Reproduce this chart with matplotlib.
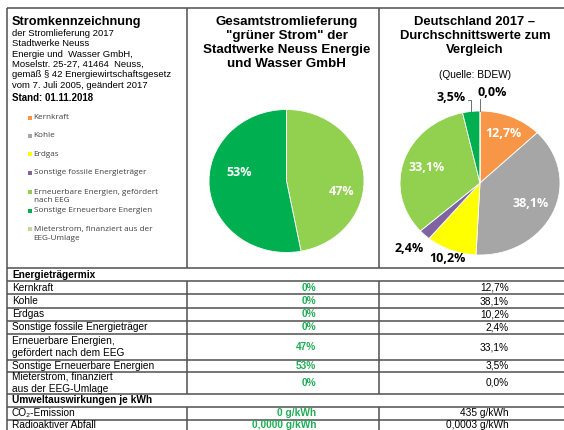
import matplotlib
matplotlib.use('Agg')
import numpy as np
import matplotlib.pyplot as plt

plt.rcParams['font.family'] = ['Liberation Sans', 'DejaVu Sans']

W, H = 564, 430

# ── data ────────────────────────────────────────────────
categories = ['Kernkraft', 'Kohle', 'Erdgas', 'Sonstige fossile Energieträger',
              'Erneuerbare Energien, gefördert\nnach EEG',
              'Sonstige Erneuerbare Energien',
              'Mieterstrom, finanziert aus der\nEEG-Umlage']
table_names = ['Kernkraft', 'Kohle', 'Erdgas', 'Sonstige fossile Energieträger',
               'Erneuerbare Energien,\ngefördert nach dem EEG',
               'Sonstige Erneuerbare Energien',
               'Mieterstrom, finanziert\naus der EEG-Umlage']
colors = ['#F79646', '#A6A6A6', '#FFFF00', '#8064A2', '#92D050', '#00B050', '#C3D69B']

gruen = [0, 0, 0, 0, 47, 53, 0]                       # Stadtwerke Neuss "grüner Strom"
de2017 = [12.7, 38.1, 10.2, 2.4, 33.1, 3.5, 0.0]      # Deutschland 2017 (BDEW)

env_names = ['CO\u2082-Emission', 'Radioaktiver Abfall']
env_gruen = ['0 g/kWh', '0,0000 g/kWh']
env_de = ['435 g/kWh', '0,0003 g/kWh']

info_lines = ['der Stromlieferung 2017', 'Stadtwerke Neuss',
              'Energie und  Wasser GmbH,', 'Moselstr. 25-27, 41464  Neuss,',
              'gemäß § 42 Energiewirtschaftsgesetz', 'vom 7. Juli 2005, geändert 2017']

green_txt = '#1fae55'
linecol = '#505050'


def de_fmt(v, dec=1):
    return f'{v:.{dec}f}'.replace('.', ',') + '%'


fig = plt.figure(figsize=(W / 100, H / 100), dpi=100)
fig.patch.set_facecolor('white')
ax = fig.add_axes([0, 0, 1, 1])
ax.set_xlim(0, W)
ax.set_ylim(H, 0)
ax.axis('off')

# ── frame of the top box ────────────────────────────────
x_left, x_c1, x_c2, x_right = 6.5, 187, 379, 566
y_top, y_box = 7.5, 268
lk = dict(color=linecol, lw=1.1, solid_capstyle='butt')
ax.plot([x_left, x_right], [y_top, y_top], **lk)
for x in (x_left, x_c1, x_c2):
    ax.plot([x, x], [y_top, y_box], **lk)

# ── left info panel ─────────────────────────────────────
ax.text(12, 22, 'Stromkennzeichnung', fontsize=9.2, fontweight='bold', va='center')
for i, line in enumerate(info_lines):
    ax.text(12.5, 33.5 + i * 10.3, line, fontsize=6.8, va='center')
ax.text(12.5, 98, 'Stand: 01.11.2018', fontsize=7.0, fontweight='bold', va='center')

leg_y = [117.5, 135.5, 154, 172.7, 192, 211, 229.3]
for name, c, y in zip(categories, colors, leg_y):
    ax.add_patch(plt.Rectangle((28.3, y - 2), 4, 4, color=c, lw=0))
    yc = y + 4.8 if '\n' in name else y
    ax.text(33.5, yc, name, fontsize=5.9, va='center', color='#404040',
            family='Open Sans', linespacing=1.25)

# ── titles ──────────────────────────────────────────────
mid_title = ['Gesamtstromlieferung', '"grüner Strom" der',
             'Stadtwerke Neuss Energie', 'und Wasser GmbH']
for i, t in enumerate(mid_title):
    ax.text(286.5, 22 + i * 14, t, fontsize=9.6, fontweight='bold', ha='center', va='center')
de_title = ['Deutschland 2017 –', 'Durchschnittswerte zum', 'Vergleich']
for i, t in enumerate(de_title):
    ax.text(475, 22 + i * 14, t, fontsize=9.4, fontweight='bold', ha='center', va='center')
ax.text(475, 75, '(Quelle: BDEW)', fontsize=7.3, ha='center', va='center')


# ── pies ────────────────────────────────────────────────
def pie_axes(cx, cy, rx, ry):
    a = fig.add_axes([(cx - rx) / W, 1 - (cy + ry) / H, 2 * rx / W, 2 * ry / H])
    return a


def mid_point(w, r, shift=0.0):
    t = np.deg2rad((w.theta1 + w.theta2) / 2 + shift)
    return r * np.cos(t), r * np.sin(t)


lab_kw = dict(family='Open Sans', fontweight='bold', fontsize=9.0, ha='center', va='center')

pa = pie_axes(286.5, 181, 77.5, 71.5)
wedges, _ = pa.pie(gruen, colors=colors, startangle=90, counterclock=False,
                   wedgeprops=dict(edgecolor='white', linewidth=0.6))
pa.set_aspect('auto')
pa.set_xlim(-1, 1)
pa.set_ylim(-1, 1)
pa.axis('off')
mid_r = {47: 0.72, 53: 0.62}
for w, v in zip(wedges, gruen):
    if v > 0:
        x, y = mid_point(w, mid_r[v], shift=-17)
        pa.text(x, y, f'{v}%', color='white', **lab_kw)

pb = pie_axes(480, 183, 80, 72)
wedges, _ = pb.pie(de2017, colors=colors, startangle=90, counterclock=False,
                   wedgeprops=dict(edgecolor='white', linewidth=0.6))
pb.set_aspect('auto')
pb.set_xlim(-1, 1)
pb.set_ylim(-1, 1)
pb.axis('off')
label_r = [0.74, 0.69, 1.12, 1.27, 0.70]
label_c = ['white', 'white', 'black', 'black', 'white']
for w, v, r, c in zip(wedges[:5], de2017[:5], label_r, label_c):
    x, y = mid_point(w, r)
    pb.text(x, y, de_fmt(v), color=c, **lab_kw)
# small slices near the top with leader lines
ex, ey = mid_point(wedges[5], 1.0)
pb.plot([ex, ex, ex - 0.045], [ey, 1.15, 1.15], color='#595959', lw=0.6, clip_on=False)
pb.text(-0.355, 1.19, de_fmt(de2017[5]), color='black', **lab_kw)
ex, ey = mid_point(wedges[6], 1.0)
pb.plot([ex, ex], [ey, 1.16], color='#595959', lw=0.6, clip_on=False)
pb.text(0.15, 1.25, de_fmt(de2017[6]), color='black', **lab_kw)

# ── table ───────────────────────────────────────────────
row_h = [13.2, 13.2, 13.2, 13.1, 13.1, 26.5, 11.4, 22.5, 12.5, 12.8, 13.4]
edges = y_box + np.concatenate([[0], np.cumsum(row_h)])
for y in edges:
    ax.plot([x_left, x_right], [y, y], **lk)
ax.plot([x_left, x_left], [y_box, H + 5], **lk)
for x in (x_c1, x_c2):
    ax.plot([x, x], [edges[1], edges[8]], **lk)
    ax.plot([x, x], [edges[9], H + 5], **lk)

tk = dict(fontsize=7.3, va='center')
ax.text(12, (edges[0] + edges[1]) / 2, 'Energieträgermix', fontweight='bold', **tk)
for i, (name, g, d) in enumerate(zip(table_names, gruen, de2017)):
    yc = (edges[i + 1] + edges[i + 2]) / 2
    ax.text(12, yc, name, linespacing=1.3, **tk)
    ax.text(316, yc, f'{g}%', ha='right', color=green_txt, fontweight='bold', **tk)
    ax.text(509, yc, d if isinstance(d, str) else de_fmt(d), ha='right', **tk)
ax.text(12, (edges[8] + edges[9]) / 2, 'Umweltauswirkungen je kWh', fontweight='bold', **tk)
for i, (name, g, d) in enumerate(zip(env_names, env_gruen, env_de)):
    yc = min((edges[9 + i] + edges[10 + i]) / 2, 425.0)
    ax.text(12, yc, name, **tk)
    ax.text(316, yc, g, ha='right', color=green_txt, fontweight='bold', **tk)
    ax.text(509, yc, d, ha='right', **tk)

fig.savefig('out.png', dpi=100, facecolor='white')
plt.close()
